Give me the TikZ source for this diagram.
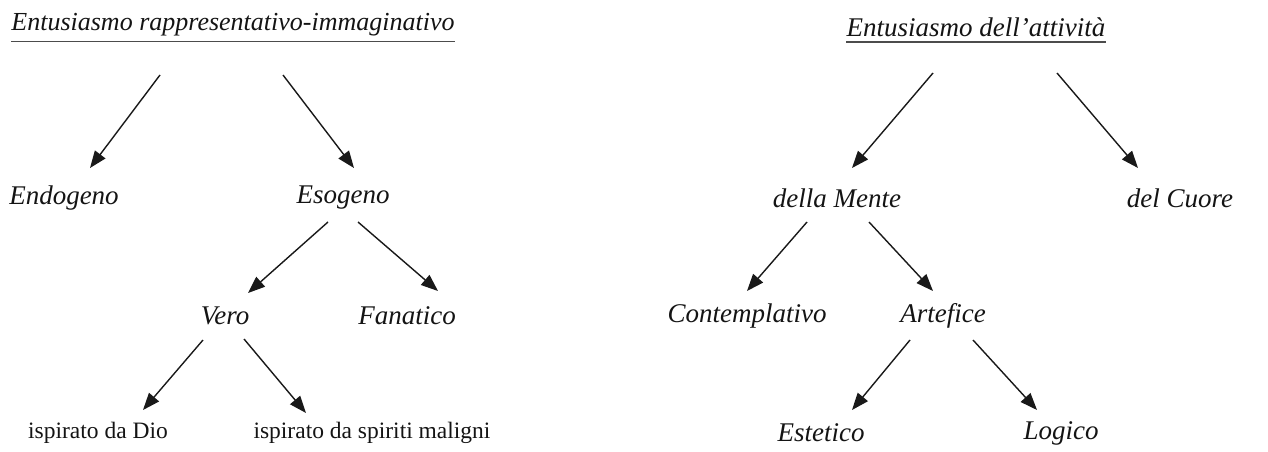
\documentclass[tikz,border=0pt]{standalone}
\usepackage{fontspec}
\setmainfont{Liberation Serif}
\usetikzlibrary{arrows.meta}
\begin{document}
\begin{tikzpicture}[x=1pt,y=-1pt,
  lbl/.style={inner sep=0pt, font=\fontsize{27}{30}\selectfont\itshape, text=black!92},
  rom/.style={inner sep=0pt, font=\fontsize{23.5}{27}\selectfont, text=black!92},
  conn/.style={line width=1.4pt, draw=black!90, -{Triangle[length=17pt,width=13pt]}},
  uline/.style={line width=1.6pt, draw=black!70}]
\useasboundingbox (0,0) rectangle (1268,452);
% left tree
\node[lbl, font=\fontsize{26}{29}\selectfont\itshape] (t1) at (233,25) {Entusiasmo rappresentativo-immaginativo};
\draw[uline] ([yshift=-5pt]t1.south west) -- ([yshift=-5pt]t1.south east);
\node[lbl] (endo) at (64,198) {Endogeno};
\node[lbl] (eso) at (343,198) {Esogeno};
\node[lbl] (vero) at (225,316) {Vero};
\node[lbl] (fan) at (407,316) {Fanatico};
\node[rom] (dio) at (98,433) {ispirato da Dio};
\node[rom] (spir) at (372,433) {ispirato da spiriti maligni};
\coordinate (t1a) at (160,75); \coordinate (endoa) at (90,168);
\coordinate (t1b) at (283,75); \coordinate (esoa) at (354,168);
\coordinate (esob) at (328,222); \coordinate (veroa) at (248,293);
\coordinate (esoc) at (358,222); \coordinate (fana) at (438,291);
\coordinate (verob) at (203,340); \coordinate (dioa) at (143,410);
\coordinate (veroc) at (244,339); \coordinate (spira) at (306,413);
\draw[conn] (t1a) -- (endoa);
\draw[conn] (t1b) -- (esoa);
\draw[conn] (esob) -- (veroa);
\draw[conn] (esoc) -- (fana);
\draw[conn] (verob) -- (dioa);
\draw[conn] (veroc) -- (spira);
% right tree
\node[lbl] (t2) at (976,27) {Entusiasmo dell'attività};
\draw[uline] ([yshift=-5pt]t2.south west) -- ([yshift=-5pt]t2.south east);
\node[lbl] (mente) at (837,198) {della Mente};
\node[lbl] (cuore) at (1180,198) {del Cuore};
\node[lbl] (cont) at (747,316) {Contemplativo};
\node[lbl] (art) at (943,316) {Artefice};
\node[lbl] (est) at (821,433) {Estetico};
\node[lbl] (log) at (1061,433) {Logico};
\coordinate (t2a) at (933,73); \coordinate (mentea) at (852,168);
\coordinate (t2b) at (1057,73); \coordinate (cuorea) at (1138,168);
\coordinate (menteb) at (807,222); \coordinate (conta) at (747,291);
\coordinate (mentec) at (869,222); \coordinate (arta) at (933,291);
\coordinate (artb) at (910,340); \coordinate (esta) at (852,410);
\coordinate (artc) at (973,340); \coordinate (loga) at (1037,410);
\draw[conn] (t2a) -- (mentea);
\draw[conn] (t2b) -- (cuorea);
\draw[conn] (menteb) -- (conta);
\draw[conn] (mentec) -- (arta);
\draw[conn] (artb) -- (esta);
\draw[conn] (artc) -- (loga);
\end{tikzpicture}
\end{document}
